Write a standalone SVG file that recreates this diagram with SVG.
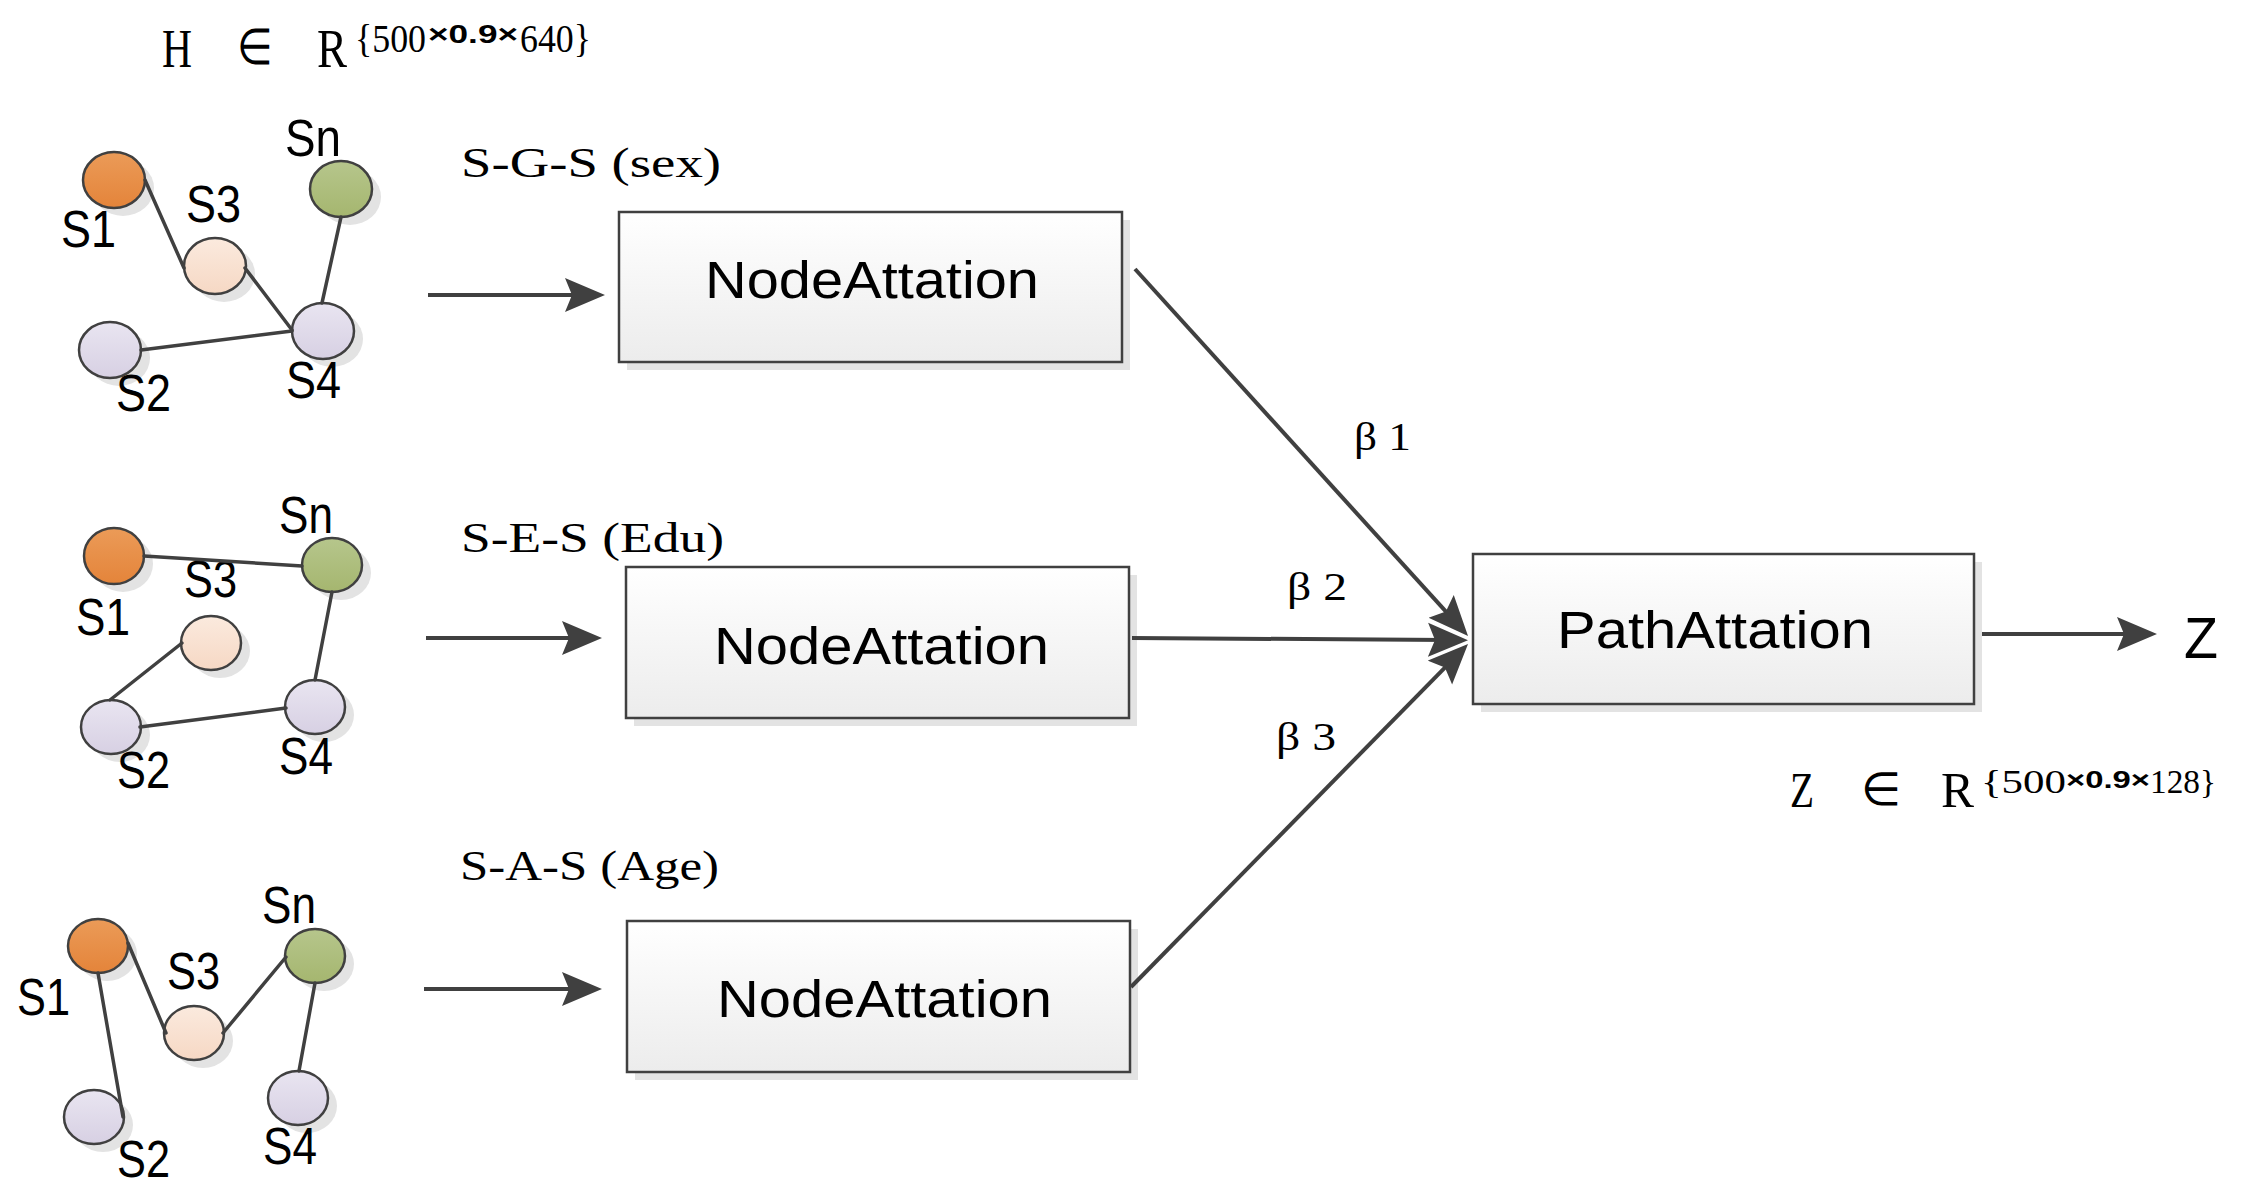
<svg xmlns="http://www.w3.org/2000/svg" width="2247" height="1201" viewBox="0 0 2247 1201">
<defs>
<linearGradient id="gOrange" x1="0" y1="0" x2="0" y2="1"><stop offset="0" stop-color="#eb9b58"/><stop offset="1" stop-color="#e4843a"/></linearGradient>
<linearGradient id="gGreen" x1="0" y1="0" x2="0" y2="1"><stop offset="0" stop-color="#b6c68c"/><stop offset="1" stop-color="#a5b66f"/></linearGradient>
<linearGradient id="gPeach" x1="0" y1="0" x2="0" y2="1"><stop offset="0" stop-color="#fbeade"/><stop offset="1" stop-color="#f6d8c4"/></linearGradient>
<linearGradient id="gLav" x1="0" y1="0" x2="0" y2="1"><stop offset="0" stop-color="#e9e5f1"/><stop offset="1" stop-color="#d7d0e3"/></linearGradient>
<linearGradient id="gBox" x1="0" y1="0" x2="0" y2="1"><stop offset="0" stop-color="#ffffff"/><stop offset="1" stop-color="#ececec"/></linearGradient>
<marker id="arr" markerUnits="userSpaceOnUse" viewBox="0 0 40 36" refX="20" refY="18" markerWidth="40" markerHeight="36" orient="auto">
<path d="M0,1 L40,18 L0,35 L7,18 Z" fill="#404040"/>
</marker>
</defs>
<style>
.sh{fill:#e3e3e3}
.nd{stroke:#404040;stroke-width:2.5}
.lbl{font-family:"Liberation Sans",Arial,sans-serif;font-size:51px;fill:#000}
.edge{stroke:#404040;stroke-width:3.5;fill:none;stroke-linecap:round}
.arrow{stroke:#404040;stroke-width:4;fill:none}
.box{fill:url(#gBox);stroke:#404040;stroke-width:2.5}
.bsh{fill:#e3e3e3}
.btxt{font-family:"Liberation Sans",Arial,sans-serif;font-size:51px;fill:#000}
.ser{font-family:"Liberation Serif","Times New Roman",serif;fill:#000}
.sup{font-family:"Liberation Sans",Arial,sans-serif;fill:#000}
</style>
<rect width="2247" height="1201" fill="#ffffff"/>

<!-- formula top -->
<g id="formulaH">
<text class="ser" x="162" y="67" font-size="54" textLength="30" lengthAdjust="spacingAndGlyphs">H</text>
<text class="ser" x="237" y="64" font-size="50" textLength="36" lengthAdjust="spacingAndGlyphs">∈</text>
<text class="ser" x="317" y="67" font-size="54" textLength="30" lengthAdjust="spacingAndGlyphs">R</text>
<text class="ser" x="355" y="52" font-size="40" textLength="71" lengthAdjust="spacingAndGlyphs">{500</text>
<text class="sup" x="428" y="43" font-size="25" font-weight="bold" textLength="90" lengthAdjust="spacingAndGlyphs">×0.9×</text>
<text class="ser" x="520" y="52" font-size="40" textLength="71" lengthAdjust="spacingAndGlyphs">640}</text>
</g>

<!-- Graph 1 -->
<g id="g1-S1"><ellipse class="sh" cx="123" cy="188" rx="31" ry="28"/><ellipse class="nd" cx="114" cy="180" rx="31" ry="28" fill="url(#gOrange)"/><text class="lbl" x="61" y="247" textLength="55" lengthAdjust="spacingAndGlyphs">S1</text></g>
<g id="g1-Sn"><ellipse class="sh" cx="350" cy="197" rx="31" ry="28"/><ellipse class="nd" cx="341" cy="189" rx="31" ry="28" fill="url(#gGreen)"/><text class="lbl" x="285" y="156" textLength="56" lengthAdjust="spacingAndGlyphs">Sn</text></g>
<g id="g1-S3"><ellipse class="sh" cx="224" cy="274" rx="31" ry="28"/><ellipse class="nd" cx="215" cy="266" rx="31" ry="28" fill="url(#gPeach)"/><text class="lbl" x="186" y="222" textLength="55" lengthAdjust="spacingAndGlyphs">S3</text></g>
<g id="g1-S4"><ellipse class="sh" cx="332" cy="339" rx="31" ry="28"/><ellipse class="nd" cx="323" cy="331" rx="31" ry="28" fill="url(#gLav)"/><text class="lbl" x="286" y="398" textLength="55" lengthAdjust="spacingAndGlyphs">S4</text></g>
<g id="g1-S2"><ellipse class="sh" cx="119" cy="358" rx="31" ry="28"/><ellipse class="nd" cx="110" cy="350" rx="31" ry="28" fill="url(#gLav)"/><text class="lbl" x="116" y="411" textLength="55" lengthAdjust="spacingAndGlyphs">S2</text></g>

<!-- Graph 2 -->
<g id="g2-S1"><ellipse class="sh" cx="123" cy="564" rx="30" ry="28"/><ellipse class="nd" cx="114" cy="556" rx="30" ry="28" fill="url(#gOrange)"/><text class="lbl" x="76" y="635" textLength="54" lengthAdjust="spacingAndGlyphs">S1</text></g>
<g id="g2-Sn"><ellipse class="sh" cx="341" cy="573" rx="30" ry="27"/><ellipse class="nd" cx="332" cy="565" rx="30" ry="27" fill="url(#gGreen)"/><text class="lbl" x="279" y="533" textLength="54" lengthAdjust="spacingAndGlyphs">Sn</text></g>
<g id="g2-S3"><ellipse class="sh" cx="220" cy="651" rx="30" ry="27"/><ellipse class="nd" cx="211" cy="643" rx="30" ry="27" fill="url(#gPeach)"/><text class="lbl" x="184" y="597" textLength="53" lengthAdjust="spacingAndGlyphs">S3</text></g>
<g id="g2-S2"><ellipse class="sh" cx="120" cy="735" rx="30" ry="27"/><ellipse class="nd" cx="111" cy="727" rx="30" ry="27" fill="url(#gLav)"/><text class="lbl" x="117" y="788" textLength="53" lengthAdjust="spacingAndGlyphs">S2</text></g>
<g id="g2-S4"><ellipse class="sh" cx="324" cy="715" rx="30" ry="27"/><ellipse class="nd" cx="315" cy="707" rx="30" ry="27" fill="url(#gLav)"/><text class="lbl" x="279" y="774" textLength="54" lengthAdjust="spacingAndGlyphs">S4</text></g>

<!-- Graph 3 -->
<g id="g3-S1"><ellipse class="sh" cx="107" cy="954" rx="30" ry="27"/><ellipse class="nd" cx="98" cy="946" rx="30" ry="27" fill="url(#gOrange)"/><text class="lbl" x="17" y="1015" textLength="53" lengthAdjust="spacingAndGlyphs">S1</text></g>
<g id="g3-Sn"><ellipse class="sh" cx="324" cy="964" rx="30" ry="27"/><ellipse class="nd" cx="315" cy="956" rx="30" ry="27" fill="url(#gGreen)"/><text class="lbl" x="262" y="923" textLength="54" lengthAdjust="spacingAndGlyphs">Sn</text></g>
<g id="g3-S3"><ellipse class="sh" cx="203" cy="1041" rx="30" ry="27"/><ellipse class="nd" cx="194" cy="1033" rx="30" ry="27" fill="url(#gPeach)"/><text class="lbl" x="167" y="989" textLength="53" lengthAdjust="spacingAndGlyphs">S3</text></g>
<g id="g3-S2"><ellipse class="sh" cx="103" cy="1125" rx="30" ry="27"/><ellipse class="nd" cx="94" cy="1117" rx="30" ry="27" fill="url(#gLav)"/><text class="lbl" x="117" y="1177" textLength="53" lengthAdjust="spacingAndGlyphs">S2</text></g>
<g id="g3-S4"><ellipse class="sh" cx="307" cy="1106" rx="30" ry="27"/><ellipse class="nd" cx="298" cy="1098" rx="30" ry="27" fill="url(#gLav)"/><text class="lbl" x="263" y="1164" textLength="54" lengthAdjust="spacingAndGlyphs">S4</text></g>

<!-- Boxes -->
<g id="node1">
<rect class="bsh" x="627" y="220" width="503" height="150"/>
<rect class="box" x="619" y="212" width="503" height="150"/>
<text class="btxt" x="705" y="298" textLength="334" lengthAdjust="spacingAndGlyphs">NodeAttation</text>
</g>
<g id="node2">
<rect class="bsh" x="634" y="575" width="503" height="151"/>
<rect class="box" x="626" y="567" width="503" height="151"/>
<text class="btxt" x="714" y="664" textLength="335" lengthAdjust="spacingAndGlyphs">NodeAttation</text>
</g>
<g id="node3">
<rect class="bsh" x="635" y="929" width="503" height="151"/>
<rect class="box" x="627" y="921" width="503" height="151"/>
<text class="btxt" x="717" y="1017" textLength="335" lengthAdjust="spacingAndGlyphs">NodeAttation</text>
</g>
<g id="pathAtt">
<rect class="bsh" x="1481" y="562" width="501" height="150"/>
<rect class="box" x="1473" y="554" width="501" height="150"/>
<text class="btxt" x="1557" y="648" textLength="316" lengthAdjust="spacingAndGlyphs">PathAttation</text>
</g>
<g id="outZ">
<text class="lbl" x="2184" y="658" style="font-size:58px" textLength="34" lengthAdjust="spacingAndGlyphs">Z</text>
</g>

<!-- Labels -->
<g id="labels">
<text class="ser" x="461" y="177" font-size="42" textLength="260" lengthAdjust="spacingAndGlyphs">S-G-S  (sex)</text>
<text class="ser" x="461" y="552" font-size="42" textLength="263" lengthAdjust="spacingAndGlyphs">S-E-S  (Edu)</text>
<text class="ser" x="460" y="880" font-size="42" textLength="259" lengthAdjust="spacingAndGlyphs">S-A-S  (Age)</text>
<text class="ser" x="1354" y="450" font-size="40" textLength="57" lengthAdjust="spacingAndGlyphs">β 1</text>
<text class="ser" x="1287" y="600" font-size="40" textLength="60" lengthAdjust="spacingAndGlyphs">β 2</text>
<text class="ser" x="1276" y="750" font-size="40" textLength="60" lengthAdjust="spacingAndGlyphs">β 3</text>
<text class="ser" x="1790" y="807" font-size="50" textLength="24" lengthAdjust="spacingAndGlyphs">Z</text>
<text class="ser" x="1861" y="805" font-size="46" textLength="40" lengthAdjust="spacingAndGlyphs">∈</text>
<text class="ser" x="1941" y="807" font-size="50" textLength="33" lengthAdjust="spacingAndGlyphs">R</text>
<text class="ser" x="1981" y="793" font-size="34" textLength="85" lengthAdjust="spacingAndGlyphs">{500</text>
<text class="sup" x="2066" y="788" font-size="23" font-weight="bold" textLength="84" lengthAdjust="spacingAndGlyphs">×0.9×</text>
<text class="ser" x="2150" y="793" font-size="34" textLength="66" lengthAdjust="spacingAndGlyphs">128}</text>
</g>

<!-- Connectors -->
<g id="connectors">
<line class="edge" x1="145" y1="180" x2="184" y2="268"/>
<line class="edge" x1="245" y1="268" x2="292" y2="330"/>
<line class="edge" x1="341" y1="217" x2="322" y2="303"/>
<line class="edge" x1="141" y1="350" x2="292" y2="331"/>

<line class="edge" x1="144" y1="556" x2="302" y2="566"/>
<line class="edge" x1="182" y1="643" x2="110" y2="700"/>
<line class="edge" x1="332" y1="592" x2="315" y2="680"/>
<line class="edge" x1="140" y1="727" x2="286" y2="708"/>

<line class="edge" x1="98" y1="973" x2="123" y2="1117"/>
<line class="edge" x1="128" y1="943" x2="166" y2="1033"/>
<line class="edge" x1="223" y1="1033" x2="286" y2="957"/>
<line class="edge" x1="315" y1="983" x2="299" y2="1071"/>

<line class="arrow" x1="428" y1="295" x2="585" y2="295" marker-end="url(#arr)"/>
<line class="arrow" x1="426" y1="638" x2="582" y2="638" marker-end="url(#arr)"/>
<line class="arrow" x1="424" y1="989" x2="582" y2="989" marker-end="url(#arr)"/>

<line class="arrow" x1="1135" y1="269" x2="1454.6" y2="621.2" marker-end="url(#arr)"/>
<line class="arrow" x1="1132" y1="638" x2="1448" y2="640" marker-end="url(#arr)"/>
<line class="arrow" x1="1131" y1="987" x2="1454" y2="658.3" marker-end="url(#arr)"/>

<line class="arrow" x1="1982" y1="634" x2="2137" y2="634" marker-end="url(#arr)"/>
</g>
</svg>
